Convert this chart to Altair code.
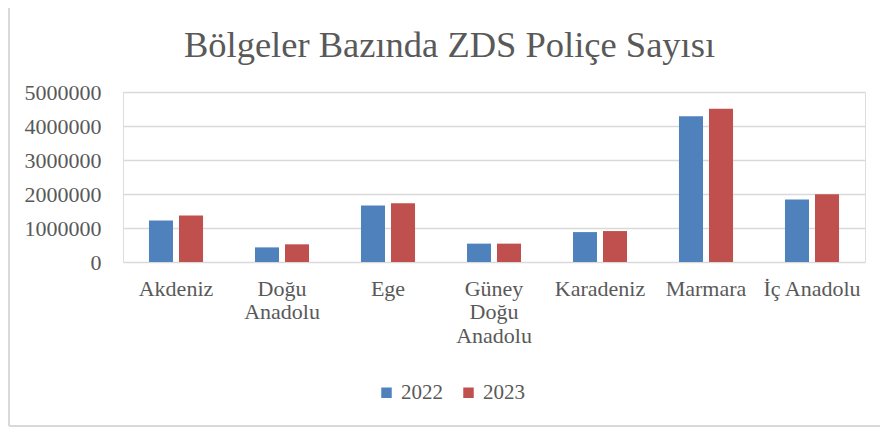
import altair as alt
import pandas as pd

regions = ["Akdeniz", "Doğu Anadolu", "Ege", "Güney Doğu Anadolu", "Karadeniz", "Marmara", "İç Anadolu"]
years = ["2022", "2023"]
v2022 = [1220000, 430000, 1660000, 540000, 880000, 4290000, 1840000]
v2023 = [1370000, 520000, 1730000, 540000, 910000, 4510000, 1990000]
colors = ["#4f81bd", "#c0504d"]
title_text = "Bölgeler Bazında ZDS Poliçe Sayısı"

rows = []
for r, a, b in zip(regions, v2022, v2023):
    rows.append({"region": r, "year": "2022", "value": a})
    rows.append({"region": r, "year": "2023", "value": b})
df = pd.DataFrame(rows)

FONT = "Liberation Serif"
TXT = "#595959"

label_expr = ("datum.label == 'Doğu Anadolu' ? ['Doğu','Anadolu'] : "
              "datum.label == 'Güney Doğu Anadolu' ? ['Güney','Doğu','Anadolu'] : datum.label")

bars = alt.Chart(df).mark_bar().encode(
    x=alt.X("region:N", sort=regions, title=None,
            scale=alt.Scale(paddingInner=0.49, paddingOuter=0.245),
            axis=alt.Axis(labelAngle=0, ticks=False, domain=False, labelExpr=label_expr,
                          labelPadding=16, labelLineHeight=23.5, labelFontSize=22,
                          labelFont=FONT, labelColor=TXT, labelLimit=300)),
    xOffset=alt.XOffset("year:N", sort=years, scale=alt.Scale(paddingInner=0.2)),
    y=alt.Y("value:Q", title=None,
            scale=alt.Scale(domain=[0, 5000000], nice=False),
            axis=alt.Axis(values=[0, 1000000, 2000000, 3000000, 4000000, 5000000], format="d",
                          ticks=False, domain=False, labelPadding=22, labelFontSize=22,
                          labelFont=FONT, labelColor=TXT, gridColor="#d9d9d9", gridWidth=1.4)),
    color=alt.Color("year:N", sort=years,
                    scale=alt.Scale(domain=years, range=colors),
                    legend=alt.Legend(title=None, orient="none", direction="horizontal",
                                      legendX=253, legendY=290, symbolType="square",
                                      symbolSize=110, symbolStrokeWidth=0, labelFontSize=21,
                                      labelFont=FONT, labelColor=TXT, labelOffset=4,
                                      columnPadding=15)),
)

one = pd.DataFrame({"t": [title_text]})
title = alt.Chart(one).mark_text(font=FONT, fontSize=36.5, color=TXT, align="center",
                                 baseline="alphabetic").encode(
    text="t:N", x=alt.value(326.5), y=alt.value(-35)
)

frame = alt.Chart(one).mark_rule(color="#d9d9d9", strokeWidth=2).encode(
    x=alt.value(-114), x2=alt.value(-114), y=alt.value(-84), y2=alt.value(334)
)
frame_b = alt.Chart(one).mark_rule(color="#d9d9d9", strokeWidth=2).encode(
    x=alt.value(-114), x2=alt.value(757), y=alt.value(334), y2=alt.value(334)
)

chart = alt.layer(frame, frame_b, title, bars).properties(
    width=742, height=170,
    padding={"left": 115, "top": 84, "right": 15, "bottom": 165},
    autosize=alt.AutoSizeParams(type="none"),
).configure_view(stroke=None).configure(background="white")

chart.save("out.html", embed_options={"renderer": "svg", "actions": False})
